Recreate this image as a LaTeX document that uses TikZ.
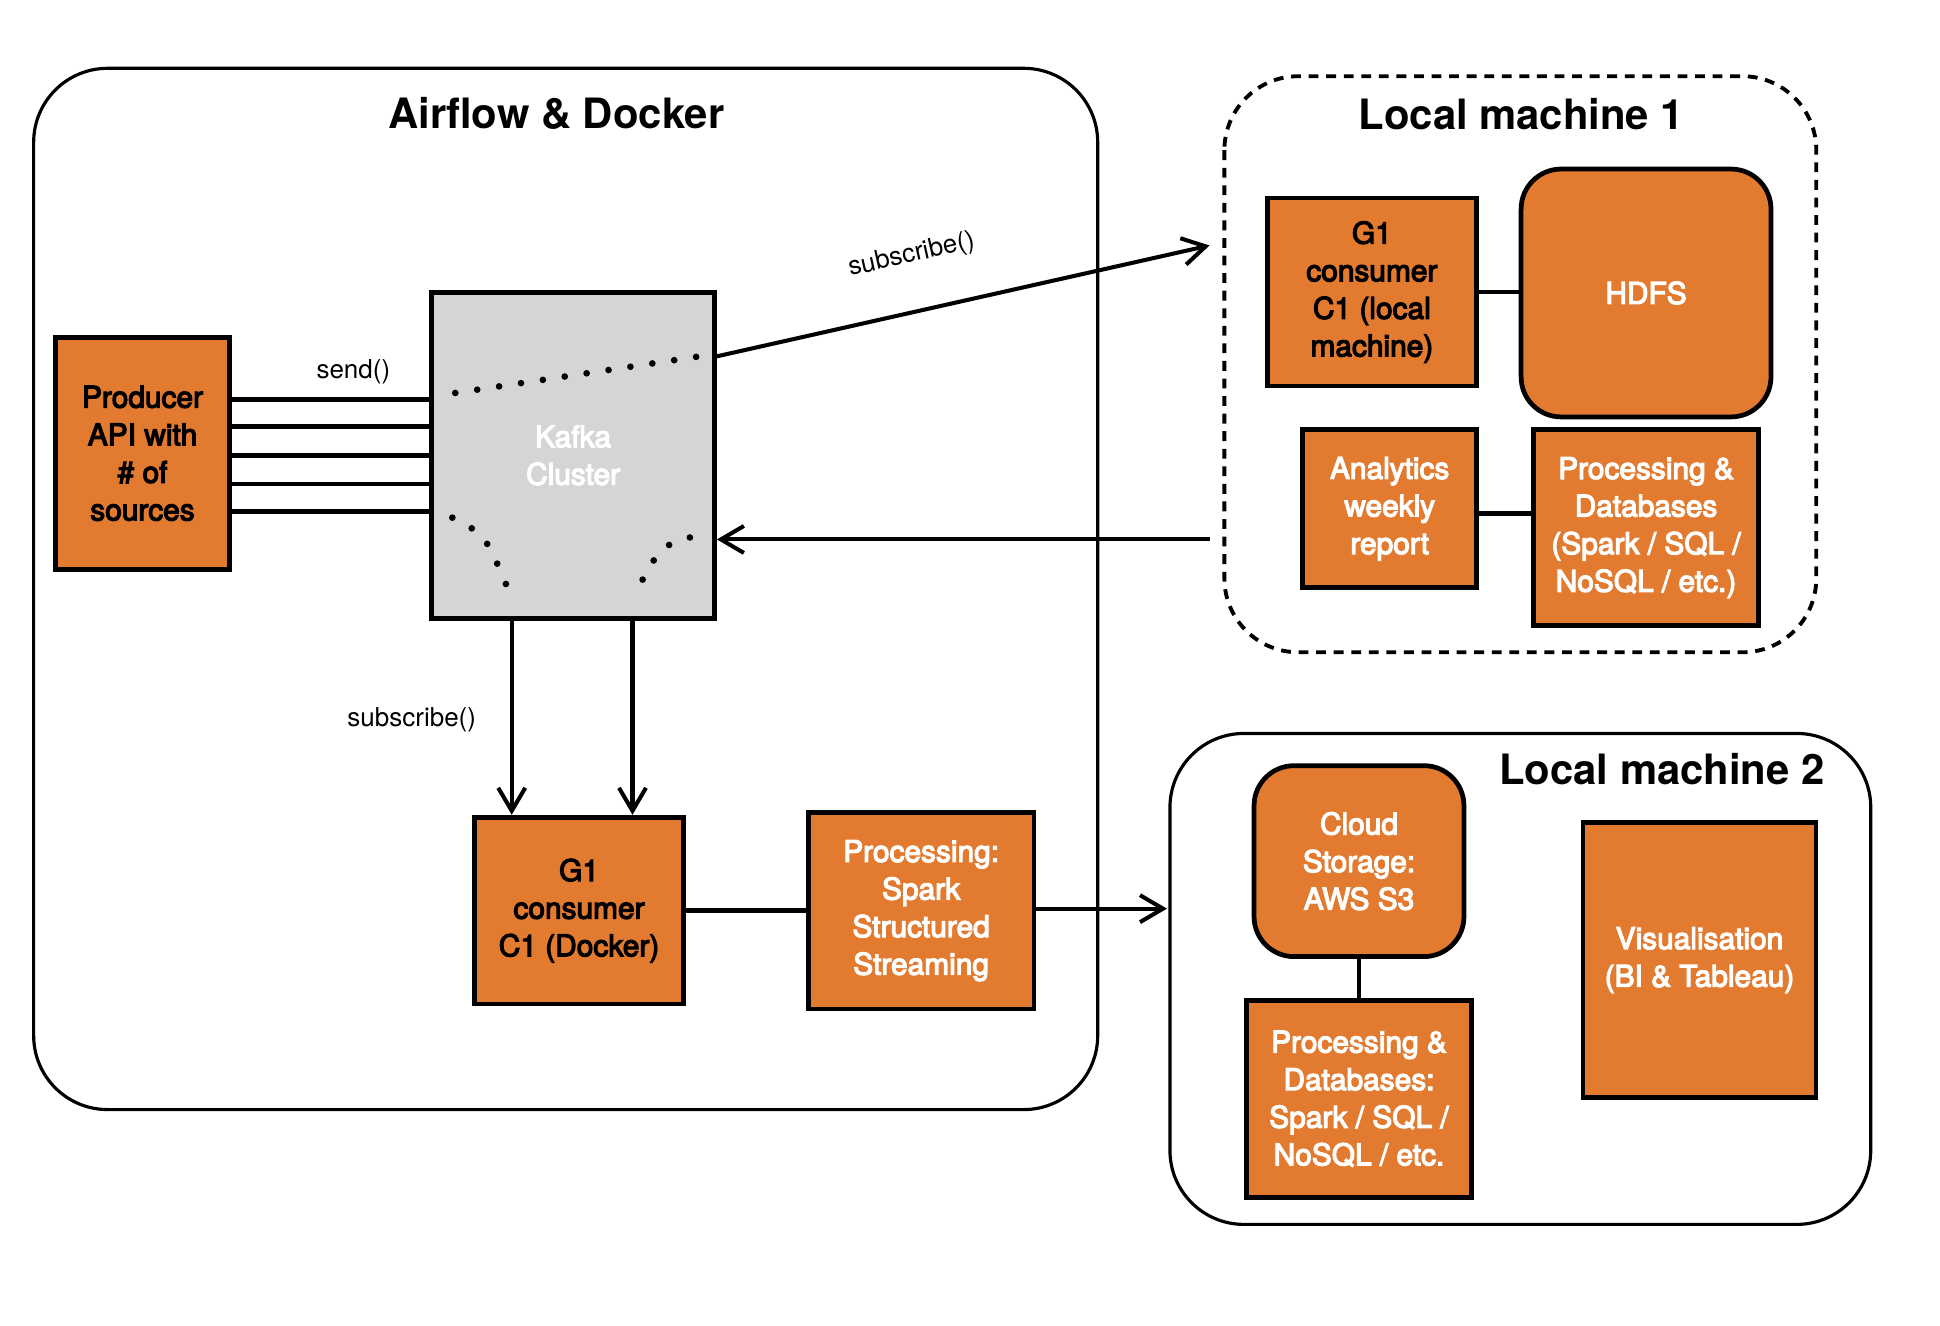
\documentclass[tikz,border=0pt]{standalone}
\usepackage{fontspec}
\setmainfont{TeX Gyre Heros}
\newfontfamily\medfont{TeX Gyre Heros}[FakeBold=4]
\usetikzlibrary{positioning}
\usetikzlibrary{arrows.meta}
\definecolor{orng}{HTML}{E27A30}
\definecolor{kgray}{HTML}{D5D5D5}

\begin{document}
\begin{tikzpicture}[x=0.0099cm,y=-0.0099cm,
  orbox/.style={draw,line width=1.35pt,fill=orng,align=center,inner sep=2pt,font=\medfont\fontsize{8.5}{10.7}\selectfont},
  rbox/.style={orbox,rounded corners=0.4cm},
  wtxt/.style={text=white},
  ttl/.style={font=\fontsize{11.9}{14}\selectfont\bfseries},
  lbl/.style={font=\fontsize{7.4}{9}\selectfont},
  cont/.style={line width=0.9pt,rounded corners=0.74cm},
  arr/.style={line width=1.15pt,-{Straight Barb[length=2.3mm,width=2.7mm]}},
  con/.style={line width=1.4pt},
  dots/.style={line width=1.9pt,line cap=round,dash pattern=on 0pt off 6.3pt}]
  \useasboundingbox (0,0) rectangle (1960,1339);

  \draw[cont] (34,69) rectangle (1109,1121);
  \draw[cont,line width=1.1pt,dash pattern=on 2.8pt off 2.2pt] (1237,77) rectangle (1835,659);
  \draw[cont] (1182,741) rectangle (1890,1237);
  \node[ttl] (t1) at (562,115) {Airflow \& Docker};
  \node[ttl] (t2) at (1537,115) {Local machine 1};
  \node[ttl] (t3) at (1679,777) {Local machine 2};

  \node[orbox,minimum width=1.74cm,minimum height=2.32cm] (prod) at (144,458) {Producer\\API with\\\# of\\sources};
  \node[orbox,fill=kgray,text=white,minimum width=2.83cm,minimum height=3.26cm] (kafka) at (579,460) {Kafka\\Cluster};
  \node[orbox,minimum width=2.09cm,minimum height=1.87cm] (g1d) at (585,920) {G1\\consumer\\C1 (Docker)};
  \node[orbox,wtxt,minimum width=2.26cm,minimum height=1.97cm,right=1.2cm of g1d] (spark) {Processing:\\Spark\\Structured\\Streaming};

  \node[orbox,minimum width=2.09cm,minimum height=1.88cm] (g1l) at (1386,295) {G1\\consumer\\C1 (local\\machine)};
  \node[rbox,wtxt,minimum width=2.5cm,minimum height=2.48cm] (hdfs) at (1663,296) {HDFS};
  \node[orbox,wtxt,minimum width=1.74cm,minimum height=1.58cm] (ana) at (1404,514) {Analytics\\weekly\\report};
  \node[orbox,wtxt,minimum width=2.25cm,minimum height=1.96cm] (pdb1) at (1663,533) {Processing \&\\Databases\\(Spark / SQL /\\NoSQL / etc.)};

  \node[rbox,wtxt,minimum width=2.1cm,minimum height=1.91cm] (cloud) at (1373,870) {Cloud\\Storage:\\AWS S3};
  \node[orbox,wtxt,minimum width=2.25cm,minimum height=1.97cm,below=0.39cm of cloud] (pdb2) {Processing \&\\Databases:\\Spark / SQL /\\NoSQL / etc.};
  \node[orbox,wtxt,minimum width=2.33cm,minimum height=2.75cm] (vis) at (1717,970) {Visualisation\\(BI \& Tableau)};

  \node[lbl] (snd) at (357,376) {send()};
  \node[lbl] (sub2) at (416,727) {subscribe()};

  \draw[dots] (460,397) -- (707,360);
  \draw[dots] (457,523) .. controls (490,540) .. (512,592);
  \draw[dots] (697,543) .. controls (668,552) .. (649,586);

  \foreach \y in {404,431,460,489,517}
    \draw[con] (prod.east |- 0,\y) -- (kafka.west |- 0,\y);

  \coordinate (s1) at (1222,248);
  \coordinate (r1) at (1222,545);
  \coordinate (m2) at (1179,918);
  \draw[arr] (kafka.east |- 0,360) -- node[lbl,sloped,above=0.3cm,pos=0.42]{subscribe()} (s1);
  \draw[arr] (r1) -- (kafka.east |- r1);
  \draw[arr] (kafka.south -| 517,0) -- (g1d.north -| 517,0);
  \draw[arr] (kafka.south -| 639,0) -- (g1d.north -| 639,0);
  \draw[con] (g1d.east) -- (g1d.east -| spark.west);
  \draw[arr] (spark.east |- m2) -- (m2);
  \draw[con] (g1l.east) -- (g1l.east -| hdfs.west);
  \draw[con] (ana.east |- 0,519) -- (pdb1.west |- 0,519);
  \draw[con] (cloud.south) -- (cloud.south |- pdb2.north);
\end{tikzpicture}
\end{document}
